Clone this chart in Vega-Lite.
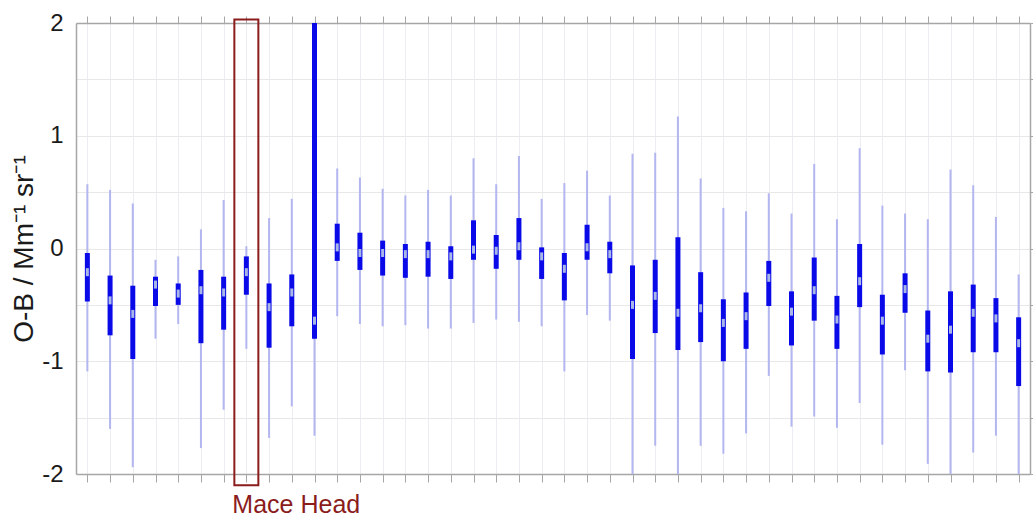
{
  "$schema": "https://vega.github.io/schema/vega-lite/v6.json",
  "width": 954,
  "height": 451,
  "autosize": {"type": "none"},
  "padding": {"left": 76, "top": 23, "right": 3, "bottom": 44},
  "background": "white",
  "config": {
    "view": {"stroke": null},
    "font": "Liberation Sans"
  },
  "datasets": {
    "stations": [
      {"station": 1, "lo": -1.09, "q1": -0.47, "med": -0.21, "q3": -0.04, "hi": 0.57},
      {"station": 2, "lo": -1.60, "q1": -0.77, "med": -0.46, "q3": -0.24, "hi": 0.52},
      {"station": 3, "lo": -1.94, "q1": -0.98, "med": -0.58, "q3": -0.33, "hi": 0.40},
      {"station": 4, "lo": -0.80, "q1": -0.51, "med": -0.32, "q3": -0.25, "hi": -0.10},
      {"station": 5, "lo": -0.67, "q1": -0.50, "med": -0.40, "q3": -0.31, "hi": -0.07},
      {"station": 6, "lo": -1.77, "q1": -0.84, "med": -0.37, "q3": -0.19, "hi": 0.17},
      {"station": 7, "lo": -1.43, "q1": -0.72, "med": -0.39, "q3": -0.25, "hi": 0.43},
      {"station": 8, "lo": -0.89, "q1": -0.41, "med": -0.21, "q3": -0.07, "hi": 0.02},
      {"station": 9, "lo": -1.68, "q1": -0.88, "med": -0.52, "q3": -0.31, "hi": 0.27},
      {"station": 10, "lo": -1.40, "q1": -0.69, "med": -0.39, "q3": -0.23, "hi": 0.44},
      {"station": 11, "lo": -1.66, "q1": -0.80, "med": -0.64, "q3": 2.6, "hi": 3.5},
      {"station": 12, "lo": -0.60, "q1": -0.11, "med": 0.01, "q3": 0.22, "hi": 0.71},
      {"station": 13, "lo": -0.67, "q1": -0.19, "med": -0.04, "q3": 0.14, "hi": 0.63},
      {"station": 14, "lo": -0.69, "q1": -0.24, "med": -0.04, "q3": 0.07, "hi": 0.53},
      {"station": 15, "lo": -0.68, "q1": -0.26, "med": -0.05, "q3": 0.04, "hi": 0.47},
      {"station": 16, "lo": -0.71, "q1": -0.25, "med": -0.05, "q3": 0.06, "hi": 0.52},
      {"station": 17, "lo": -0.71, "q1": -0.27, "med": -0.07, "q3": 0.02, "hi": 0.47},
      {"station": 18, "lo": -0.66, "q1": -0.10, "med": -0.01, "q3": 0.25, "hi": 0.80},
      {"station": 19, "lo": -0.63, "q1": -0.18, "med": -0.02, "q3": 0.12, "hi": 0.57},
      {"station": 20, "lo": -0.65, "q1": -0.10, "med": 0.02, "q3": 0.27, "hi": 0.82},
      {"station": 21, "lo": -0.69, "q1": -0.27, "med": -0.07, "q3": 0.01, "hi": 0.44},
      {"station": 22, "lo": -1.09, "q1": -0.46, "med": -0.18, "q3": -0.04, "hi": 0.58},
      {"station": 23, "lo": -0.59, "q1": -0.10, "med": 0.01, "q3": 0.21, "hi": 0.69},
      {"station": 24, "lo": -0.64, "q1": -0.22, "med": -0.05, "q3": 0.06, "hi": 0.47},
      {"station": 25, "lo": -2.1, "q1": -0.98, "med": -0.50, "q3": -0.15, "hi": 0.84},
      {"station": 26, "lo": -1.75, "q1": -0.75, "med": -0.42, "q3": -0.10, "hi": 0.85},
      {"station": 27, "lo": -2.1, "q1": -0.90, "med": -0.57, "q3": 0.10, "hi": 1.17},
      {"station": 28, "lo": -1.75, "q1": -0.83, "med": -0.53, "q3": -0.21, "hi": 0.62},
      {"station": 29, "lo": -1.82, "q1": -1.00, "med": -0.66, "q3": -0.45, "hi": 0.36},
      {"station": 30, "lo": -1.64, "q1": -0.89, "med": -0.60, "q3": -0.39, "hi": 0.33},
      {"station": 31, "lo": -1.13, "q1": -0.51, "med": -0.26, "q3": -0.11, "hi": 0.49},
      {"station": 32, "lo": -1.58, "q1": -0.86, "med": -0.56, "q3": -0.38, "hi": 0.31},
      {"station": 33, "lo": -1.49, "q1": -0.64, "med": -0.37, "q3": -0.08, "hi": 0.75},
      {"station": 34, "lo": -1.59, "q1": -0.89, "med": -0.63, "q3": -0.42, "hi": 0.26},
      {"station": 35, "lo": -1.37, "q1": -0.52, "med": -0.29, "q3": 0.04, "hi": 0.89},
      {"station": 36, "lo": -1.74, "q1": -0.94, "med": -0.64, "q3": -0.41, "hi": 0.38},
      {"station": 37, "lo": -1.08, "q1": -0.57, "med": -0.36, "q3": -0.22, "hi": 0.31},
      {"station": 38, "lo": -1.91, "q1": -1.09, "med": -0.80, "q3": -0.55, "hi": 0.26},
      {"station": 39, "lo": -2.1, "q1": -1.10, "med": -0.72, "q3": -0.38, "hi": 0.70},
      {"station": 40, "lo": -1.81, "q1": -0.92, "med": -0.57, "q3": -0.32, "hi": 0.56},
      {"station": 41, "lo": -1.66, "q1": -0.92, "med": -0.62, "q3": -0.44, "hi": 0.28},
      {"station": 42, "lo": -2.1, "q1": -1.22, "med": -0.84, "q3": -0.61, "hi": -0.23}
    ],
    "highlight": [
      {"station": 8, "top": 2.03, "bottom": -2.1, "labelPos": -2.345, "label": "Mace Head"}
    ]
  },
  "resolve": {
    "scale": {"x": "shared", "y": "shared"},
    "axis": {"x": "independent", "y": "independent"}
  },
  "layer": [
    {
      "data": {"name": "stations"},
      "mark": {"type": "rule", "color": "#b3b6ef", "strokeWidth": 2, "clip": true},
      "encoding": {
        "x": {
          "field": "station", "type": "quantitative",
          "scale": {"domain": [0.5, 42.5], "nice": false, "zero": false, "padding": 0},
          "axis": {
            "orient": "bottom",
            "values": [1,2,3,4,5,6,7,8,9,10,11,12,13,14,15,16,17,18,19,20,21,22,23,24,25,26,27,28,29,30,31,32,33,34,35,36,37,38,39,40,41,42],
            "labels": false, "title": null,
            "grid": true, "gridColor": "#ececf3", "gridWidth": 1,
            "domain": true, "domainColor": "#a6a6a6", "domainWidth": 1.5,
            "ticks": true, "tickColor": "#a6a6a6", "tickSize": 8, "tickWidth": 1
          }
        },
        "y": {
          "field": "lo", "type": "quantitative",
          "scale": {"domain": [-2, 2], "nice": false, "zero": false, "padding": 0},
          "axis": {
            "orient": "left",
            "values": [-2, -1.5, -1, -0.5, 0, 0.5, 1, 1.5, 2],
            "labelExpr": "datum.value % 1 == 0 ? '' + datum.value : ''",
            "labelFontSize": 24, "labelColor": "#1a1a1a", "labelPadding": 13,
            "labelFont": "Liberation Sans",
            "title": "O-B / Mm⁻¹ sr⁻¹",
            "titleFontSize": 28, "titleFontWeight": "normal", "titleColor": "#1a1a1a",
            "titleFont": "Liberation Sans", "titlePadding": 3,
            "grid": true, "gridColor": "#e8e8e8", "gridWidth": 1,
            "domain": true, "domainColor": "#a6a6a6", "domainWidth": 1.5,
            "ticks": false
          }
        },
        "y2": {"field": "hi"}
      }
    },
    {
      "data": {"name": "stations"},
      "mark": {"type": "bar", "color": "#0a0ae8", "width": 5, "clip": true},
      "encoding": {
        "x": {"field": "station", "type": "quantitative", "axis": null},
        "y": {"field": "q1", "type": "quantitative", "axis": null},
        "y2": {"field": "q3"}
      }
    },
    {
      "data": {"name": "stations"},
      "mark": {"type": "tick", "color": "#a9b6e8", "size": 8, "thickness": 3, "opacity": 1, "clip": true},
      "encoding": {
        "x": {
          "field": "station", "type": "quantitative",
          "axis": {
            "orient": "top",
            "values": [1,2,3,4,5,6,7,8,9,10,11,12,13,14,15,16,17,18,19,20,21,22,23,24,25,26,27,28,29,30,31,32,33,34,35,36,37,38,39,40,41,42],
            "labels": false, "title": null, "grid": false,
            "domain": true, "domainColor": "#a6a6a6", "domainWidth": 1.5,
            "ticks": true, "tickColor": "#a6a6a6", "tickSize": 7, "tickWidth": 1
          }
        },
        "y": {
          "field": "med", "type": "quantitative",
          "axis": {
            "orient": "right",
            "values": [-2, -1.5, -1, -0.5, 0, 0.5, 1, 1.5, 2],
            "labels": false, "title": null, "grid": false,
            "domain": true, "domainColor": "#a6a6a6", "domainWidth": 1.5,
            "ticks": true, "tickColor": "#a6a6a6", "tickSize": 3, "tickWidth": 1
          }
        }
      }
    },
    {
      "data": {"name": "highlight"},
      "mark": {"type": "bar", "width": 24, "fill": null, "fillOpacity": 0, "stroke": "#8b1c1c", "strokeWidth": 2, "clip": false},
      "encoding": {
        "x": {"field": "station", "type": "quantitative", "axis": null},
        "y": {"field": "bottom", "type": "quantitative", "axis": null},
        "y2": {"field": "top"}
      }
    },
    {
      "data": {"name": "highlight"},
      "mark": {"type": "text", "color": "#8b1c1c", "fontSize": 25, "font": "Liberation Sans", "align": "left", "baseline": "alphabetic", "dx": -14, "clip": false},
      "encoding": {
        "x": {"field": "station", "type": "quantitative", "axis": null},
        "y": {"field": "labelPos", "type": "quantitative", "axis": null},
        "text": {"field": "label"}
      }
    }
  ]
}
